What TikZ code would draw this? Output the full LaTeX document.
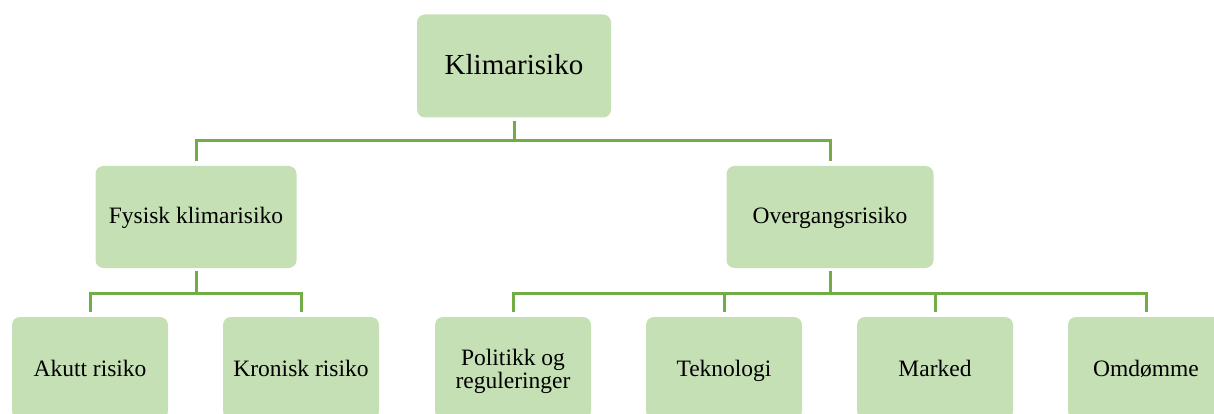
\documentclass[tikz,border=0pt]{standalone}
\usepackage{fontspec}
\setmainfont{Liberation Serif}
\definecolor{boxgreen}{HTML}{C5E0B4}
\definecolor{linegreen}{HTML}{70AD47}

\begin{document}
\begin{tikzpicture}[x=1pt, y=-1pt,
  risk/.style={fill=boxgreen, rounded corners=8pt, minimum width=156pt, minimum height=102pt, inner sep=0pt, align=center, text height=19pt, text depth=2pt, font=\fontsize{23.5}{23.5}\selectfont},
  link/.style={draw=linegreen, line width=3pt, shorten <=3pt, shorten >=5pt}]
  \path[use as bounding box, clip] (0,0) rectangle (1214,414);

  \node (klima) at (514, 66) [risk, minimum width=194pt, minimum height=103pt, text height=21pt, text depth=3pt, font=\fontsize{29}{30}\selectfont] {Klimarisiko};

  \node (fysisk) at (196, 217) [risk, minimum width=201pt, text height=16pt, text depth=4pt] {Fysisk klimarisiko};
  \node (overgang) at (830, 217) [risk, minimum width=207pt, text height=16pt, text depth=4pt] {Overgangsrisiko};

  \node (akutt) at (90, 368) [risk] {Akutt risiko};
  \node (kronisk) at (301, 368) [risk] {Kronisk risiko};
  \node (politikk) at (513, 368) [risk, text height=44pt, text depth=3pt] {Politikk og\\reguleringer};
  \node (tekno) at (724, 368) [risk] {Teknologi};
  \node (marked) at (935, 368) [risk] {Marked};
  \node (omdomme) at (1146, 368) [risk] {Omdømme};

  \coordinate (bar1) at (0, 141);
  \coordinate (bar2) at (0, 293);

  \draw[link] (klima.south) -- (klima.south |- bar1) -| (fysisk.north);
  \draw[link] (klima.south) -- (klima.south |- bar1) -| (overgang.north);

  \draw[link] (fysisk.south) -- (fysisk.south |- bar2) -| (akutt.north);
  \draw[link] (fysisk.south) -- (fysisk.south |- bar2) -| (kronisk.north);

  \draw[link] (overgang.south) -- (overgang.south |- bar2) -| (politikk.north);
  \draw[link] (overgang.south) -- (overgang.south |- bar2) -| (tekno.north);
  \draw[link] (overgang.south) -- (overgang.south |- bar2) -| (marked.north);
  \draw[link] (overgang.south) -- (overgang.south |- bar2) -| (omdomme.north);
\end{tikzpicture}
\end{document}
